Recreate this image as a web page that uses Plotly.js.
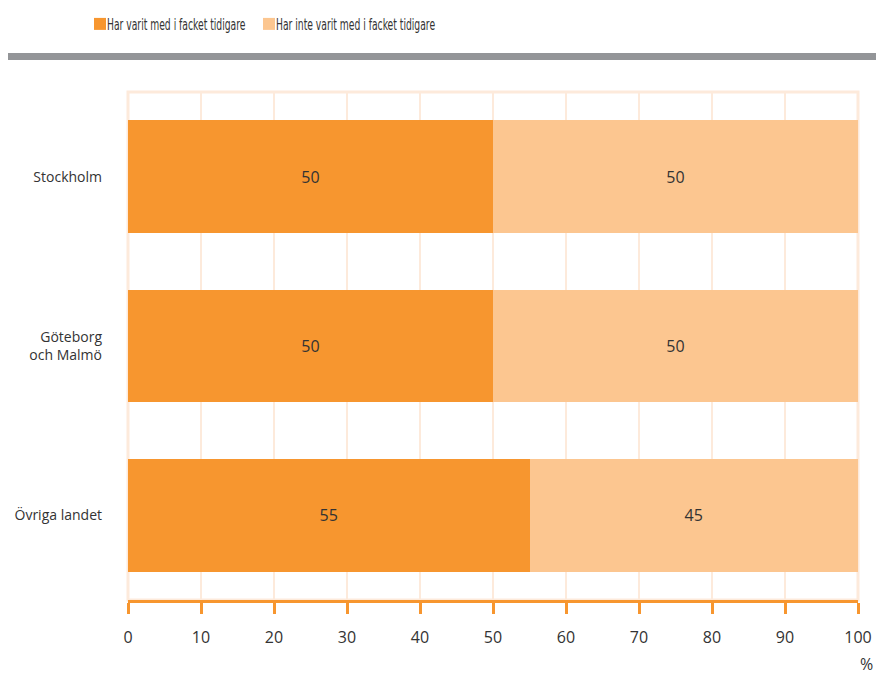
<!DOCTYPE html>
<html>
<head>
<meta charset="utf-8">
<script src="https://cdn.plot.ly/plotly-3.0.1.min.js"></script>
<style>
html,body{margin:0;padding:0;background:#fff;}
#chart{width:876px;height:675px;}
#chart text.legendtext, #chart text.legend2text{transform-box:fill-box;transform-origin:0 50%;transform:translateX(-13px) scaleX(0.64);}
</style>
</head>
<body>
<div id="chart"></div>
<script>
const categories = ["Stockholm", "Göteborg<br>och Malmö", "Övriga landet"];
const seriesNames = ["Har varit med i facket tidigare", "Har inte varit med i facket tidigare"];
const beenMember = [50, 50, 55];
const notMember = [50, 50, 45];
const xTicks = [0, 10, 20, 30, 40, 50, 60, 70, 80, 90, 100];

const W = 876, H = 675, L = 128, R = 18, T = 92, B = 75;
const pw = W - L - R, ph = H - T - B;
const px = v => (v - L) / pw;
const py = v => (H - B - v) / ph;

const textFont = {family: "Open Sans, Noto Sans, sans-serif", size: 16, color: "#333333"};
const legendFont = {family: "DejaVu Sans Condensed, Liberation Sans Narrow, sans-serif", size: 16, color: "#333333"};

const traces = [
  {type: "bar", orientation: "h", name: seriesNames[0], y: categories, x: beenMember,
   marker: {color: "#f7962f"}, text: beenMember.map(String), textposition: "inside",
   insidetextanchor: "middle", textfont: textFont, hoverinfo: "x+y", legend: "legend"},
  {type: "bar", orientation: "h", name: seriesNames[1], y: categories, x: notMember,
   marker: {color: "#fcc690"}, text: notMember.map(String), textposition: "inside",
   insidetextanchor: "middle", textfont: textFont, hoverinfo: "x+y", legend: "legend2"}
];

const layout = {
  width: W, height: H,
  margin: {l: L, r: R, t: T, b: B, autoexpand: false},
  barmode: "stack",
  bargap: 0.335,
  paper_bgcolor: "#ffffff", plot_bgcolor: "#ffffff",
  font: {family: "Open Sans, Noto Sans, sans-serif", color: "#333333"},
  showlegend: true,
  legend: {orientation: "h", x: px(80), xanchor: "left", y: py(24), yanchor: "middle",
    font: legendFont, itemwidth: 30, bgcolor: "rgba(0,0,0,0)"},
  legend2: {orientation: "h", x: px(249), xanchor: "left", y: py(24), yanchor: "middle",
    font: legendFont, itemwidth: 30, bgcolor: "rgba(0,0,0,0)"},
  xaxis: {range: [0, 100], tickvals: xTicks, ticktext: xTicks.map(String),
    showgrid: true, gridcolor: "#fdeadb", gridwidth: 2,
    showline: true, linecolor: "#f7962f", linewidth: 3,
    ticks: "outside", ticklen: 11, tickwidth: 3, tickcolor: "#f7962f",
    ticklabelstandoff: 10,
    tickfont: {size: 16, color: "#333333"}, zeroline: false, fixedrange: true},
  yaxis: {autorange: "reversed", type: "category", showgrid: false, zeroline: false,
    showline: false, ticks: "", ticklabelstandoff: 25,
    tickfont: {size: 14, color: "#333333"}, fixedrange: true},
  shapes: [
    {type: "rect", xref: "paper", yref: "paper", x0: 0, x1: 1, y0: 0, y1: 1,
     line: {color: "#fdeadb", width: 3}, layer: "below"},
    {type: "rect", xref: "paper", yref: "paper", x0: px(8), x1: px(876), y0: py(60), y1: py(53),
     fillcolor: "#939598", line: {width: 0}}
  ],
  annotations: [
    {text: "%", xref: "paper", yref: "paper", x: px(866), y: py(664), showarrow: false,
     xanchor: "center", yanchor: "middle", font: {size: 16, color: "#333333"}}
  ]
};

Plotly.newPlot("chart", traces, layout, {displayModeBar: false, staticPlot: true});
</script>
</body>
</html>
